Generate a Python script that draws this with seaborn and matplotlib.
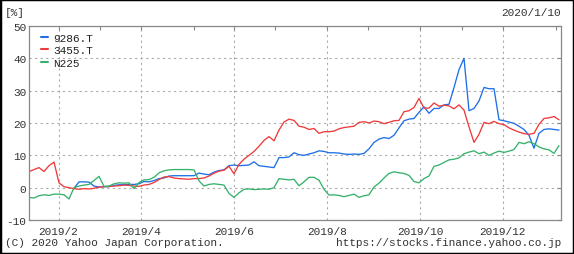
import numpy as np
import pandas as pd
import matplotlib
matplotlib.use("Agg")
import matplotlib.pyplot as plt
import seaborn as sns
from matplotlib.patches import Rectangle

# ---- data (percent change), sampled every ~5 px across the year ----
s9286 = [np.nan] * 9 + [
    -0.2, 1.8, 1.8, 1.7, 0.5, 0.2, 0.3, 0.3, 0.7, 0.9,
    0.9, 1.0, 1.0, 1.2, 1.9, 1.8, 2.2, 2.8, 3.0, 3.6,
    3.7, 3.7, 3.7, 3.7, 3.7, 4.5, 4.2, 4.0, 4.8, 5.3,
    5.5, 6.8, 7.0, 6.8, 6.9, 7.0, 8.0, 6.8, 6.6, 6.4,
    6.2, 9.3, 9.3, 9.5, 10.8, 10.2, 10.0, 10.4, 10.8, 11.4,
    11.2, 10.8, 10.8, 10.7, 10.4, 10.3, 10.4, 10.3, 10.6, 12.0,
    14.0, 15.0, 15.5, 15.2, 16.2, 18.5, 20.7, 21.2, 21.4, 23.3,
    25.0, 23.0, 24.5, 24.5, 25.6, 25.8, 31.0, 36.5, 40.0, 23.8,
    24.5, 26.8, 31.0, 30.6, 30.6, 21.0, 20.7, 20.3, 19.9, 19.0,
    18.0, 16.2, 12.2, 16.8, 18.0, 18.2, 18.0, 17.8,
]
s3455 = [
    5.0, 5.6, 6.2, 5.0, 6.8, 7.9, 1.5, 0.3, 0.0, -0.3,
    -0.5, -0.3, -0.4, -0.2, 0.2, 0.3, 0.4, 0.5, 0.6, 0.8,
    0.7, 0.5, 0.4, 0.8, 1.0, 1.6, 2.5, 3.3, 3.4, 3.0,
    2.8, 2.7, 2.6, 2.8, 2.8, 3.0, 3.6, 4.5, 5.1, 5.4,
    6.6, 4.3, 7.2, 8.8, 10.0, 11.2, 12.8, 14.6, 15.8, 14.5,
    17.8, 20.3, 21.2, 20.8, 19.0, 18.7, 18.0, 18.3, 16.8, 17.3,
    17.3, 17.5, 18.2, 18.6, 18.8, 19.0, 20.2, 20.4, 20.0, 20.6,
    20.4, 19.8, 20.2, 20.7, 20.8, 23.5, 23.8, 24.8, 27.6, 24.6,
    24.6, 26.2, 25.2, 25.5, 25.3, 24.4, 25.6, 24.0, 18.8, 14.0,
    16.5, 20.2, 19.8, 20.5, 19.8, 19.5, 18.5, 17.8, 17.2, 16.7,
    16.5, 16.8, 19.6, 21.4, 21.6, 22.0, 21.0,
]
sN225 = [
    -3.0, -3.2, -2.5, -2.2, -2.4, -2.0, -2.0, -2.2, -3.5, 0.0,
    0.5, 0.8, 1.0, 2.2, 3.5, 0.4, 0.5, 1.2, 1.5, 1.4,
    1.5, -0.3, 1.6, 2.4, 2.5, 3.2, 4.6, 5.2, 5.5, 5.6,
    5.6, 5.6, 5.6, 5.5, 2.1, 0.5, 1.0, 1.2, 1.0, 0.8,
    -1.8, -3.0, -1.6, -0.5, -0.4, -0.6, -0.5, -0.4, -0.5, 0.0,
    2.8, 2.6, 2.4, 2.6, 0.6, 1.8, 3.2, 3.2, 2.3, -0.5,
    -2.3, -2.2, -2.4, -2.8, -2.4, -2.0, -3.0, -2.5, -2.2, 0.2,
    1.4, 3.0, 4.4, 4.9, 4.6, 4.4, 3.8, 1.9, 1.5, 2.8,
    3.6, 6.6, 7.0, 7.8, 8.6, 8.8, 9.2, 10.5, 11.0, 11.4,
    10.5, 11.0, 10.0, 10.7, 11.3, 10.9, 11.3, 11.8, 14.0, 13.6,
    14.2, 13.6, 12.6, 12.0, 11.7, 10.6, 13.0,
]
series_names = ["9286.T", "3455.T", "N225"]
series_colors = ["#1f6fe6", "#ee3b3b", "#35b26b"]

major_labels = ["2019/2", "2019/4", "2019/6", "2019/8", "2019/10", "2019/12"]
major_pos = [5.92, 22.4, 40.94, 59.6, 78.2, 94.72]
minor_pos = [14.12, 33.0, 49.2, 67.8, 86.6, 105.34]
y_ticks = [-10, 0, 10, 20, 30, 40, 50]

n = len(s3455)
frames = []
for name, vals in zip(series_names, [s9286, s3455, sN225]):
    frames.append(pd.DataFrame({"idx": np.arange(n), "pct": vals, "code": name}))
df = pd.concat(frames, ignore_index=True)

sns.set_theme(style="white")
mono = ["Liberation Mono", "DejaVu Sans Mono"]
plt.rcParams["font.family"] = mono

fig = plt.figure(figsize=(5.74, 2.55), dpi=100)
ax = fig.add_axes([29 / 574, 1 - 221 / 255, (561 - 29) / 574, (221 - 27) / 255])

sns.lineplot(data=df, x="idx", y="pct", hue="code", palette=series_colors,
             hue_order=series_names, linewidth=0.95, ax=ax, legend=True)

ax.set_xlim(0, 106.4)
ax.set_ylim(-10, 50)
ax.set_xlabel("")
ax.set_ylabel("")

txtc = "#333333"
ax.set_xticks(major_pos)
ax.set_xticklabels(major_labels, fontsize=8, color=txtc)
ax.set_xticks(minor_pos, minor=True)
ax.set_yticks(y_ticks)
ax.set_yticklabels([str(v) for v in y_ticks], fontsize=8, color=txtc)

ax.tick_params(axis="both", which="both", direction="in", length=3,
               color="#888888", width=0.8, top=True, right=True, pad=2)
ax.tick_params(axis="x", which="major", pad=4)

ax.grid(True, which="major", axis="both", color="#aaaaaa",
        linestyle=(0, (2, 3)), linewidth=0.8)
for sp in ax.spines.values():
    sp.set_color("#888888")
    sp.set_linewidth(0.9)

leg = ax.legend(loc="upper left", frameon=False, fontsize=8, handlelength=0.6,
                handletextpad=0.5, labelspacing=0.22, borderaxespad=0.2,
                bbox_to_anchor=(0.01, 1.0))
for h in leg.get_lines():
    h.set_linewidth(1.5)
for t in leg.get_texts():
    t.set_color("#222222")

fig.text(5 / 574, 1 - 13 / 255, "[%]", fontsize=8, color=txtc, va="center", ha="left")
fig.text(561 / 574, 1 - 13 / 255, "2020/1/10", fontsize=8, color=txtc, va="center", ha="right")
fig.text(5 / 574, 1 - 243 / 255, "(C) 2020 Yahoo Japan Corporation.", fontsize=8,
         color=txtc, va="center", ha="left")
fig.text(561 / 574, 1 - 243 / 255, "https://stocks.finance.yahoo.co.jp", fontsize=8,
         color=txtc, va="center", ha="right")

fig.patches.append(Rectangle((0, 0), 1, 1, transform=fig.transFigure, fill=False,
                             edgecolor="black", linewidth=2.5))

fig.savefig("out.png", dpi=100, facecolor="white")
